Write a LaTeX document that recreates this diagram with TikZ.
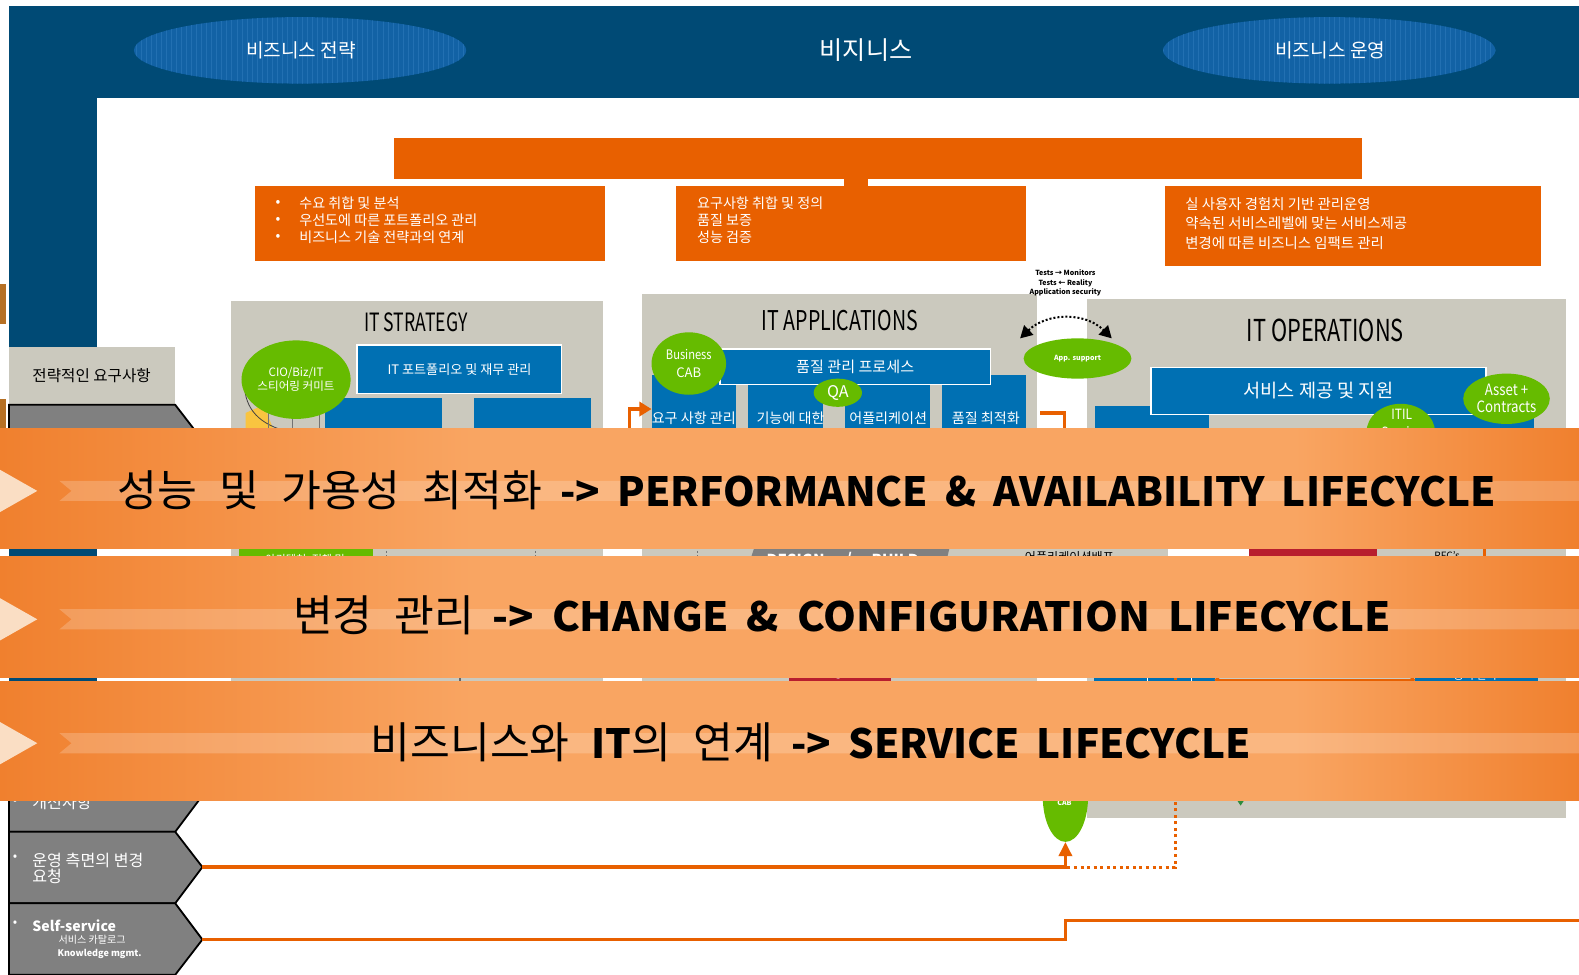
\documentclass[tikz,border=0pt]{standalone}
\usepackage{fontspec}
\setmainfont{Noto Sans CJK KR}
\usepackage{graphicx}
\usetikzlibrary{arrows.meta,shapes.geometric}
\definecolor{navy}{RGB}{0,74,117}
\definecolor{hdrell}{RGB}{18,98,165}
\definecolor{hdrgrid}{RGB}{34,112,178}
\definecolor{org}{RGB}{232,96,0}
\definecolor{panel}{RGB}{203,201,190}
\definecolor{bbox}{RGB}{0,112,179}
\definecolor{grn}{RGB}{102,187,0}
\definecolor{dgrn}{RGB}{46,140,60}
\definecolor{chev}{RGB}{128,128,128}
\definecolor{rd}{RGB}{184,30,46}
\definecolor{bandD}{RGB}{240,128,46}
\definecolor{bandL}{RGB}{249,165,98}
\definecolor{pale}{RGB}{250,222,196}
\definecolor{brn}{RGB}{182,112,36}
\definecolor{ylw}{RGB}{249,196,64}
\pgfdeclarehorizontalshading{band}{100bp}{color(0bp)=(bandD); color(25bp)=(bandD); color(40bp)=(bandL); color(66bp)=(bandL); color(75bp)=(bandD); color(100bp)=(bandD)}
\newcommand{\krbig}[1]{{\fontsize{43}{44}\selectfont\spaceskip=22pt\relax #1}}
\newcommand{\enbig}[1]{{\bfseries\fontsize{40}{44}\selectfont\spaceskip=17pt\relax #1}}
\tikzset{
  bluebox/.style={fill=bbox, draw=white, line width=1.5pt, text=white, inner sep=0pt},
  gell/.style={ellipse, fill=grn, text=white, inner sep=0pt, align=center},
  wtxt/.style={text=white, inner sep=0pt},
  olink/.style={draw=org, line width=3.3pt},
  chevshape/.style={fill=chev, draw=black, line width=1.8pt},
  ttl/.style={text=black, inner sep=0pt},
  bantxt/.style={text=black, inner sep=0pt, font={\fontsize{40}{44}\selectfont}},
}
\begin{document}
\begin{tikzpicture}[x=1pt,y=-1pt]
\useasboundingbox (0,0) rectangle (1568,968);
\fill[white] (0,0) rectangle (1568,968);
% frame
\fill[navy] (9,6) rectangle (1568,97);
\fill[navy] (9,97) rectangle (96,800);
\fill[brn] (0,282) rectangle (6,322);
\fill[brn] (0,396) rectangle (6,426);
% header ellipses
\foreach \cx in {298,1320}{
  \begin{scope}
    \clip (\cx,50) ellipse [x radius=165, y radius=33];
    \fill[hdrell] (\cx-170,10) rectangle (\cx+170,90);
    \draw[hdrgrid, line width=0.3pt, step=5] (\cx-170,10) grid (\cx+170,90);
  \end{scope}
}
\node[wtxt, font=\fontsize{19}{22}\selectfont] (hs) at (299,50) {비즈니스 전략};
\node[wtxt, font=\fontsize{25}{28}\selectfont] (hb) at (860,50) {비지니스};
\node[wtxt, font=\fontsize{19}{22}\selectfont] (ho) at (1321,50) {비즈니스 운영};
% orange boxes
\fill[org] (391,137) rectangle (1352,178);
\fill[org] (838,178) rectangle (862,186);
\fill[org] (253,185) rectangle (601,259);
\fill[org] (671,185) rectangle (1019,259);
\fill[org] (1157,185) rectangle (1530,264);
\begin{scope}[every node/.style={wtxt, font=\fontsize{14}{16}\selectfont}]
\node (lb1) at (276,202) {•};
\node (lb2) at (276,219) {•};
\node (lb3) at (276,236) {•};
\node[anchor=west] (l1) at (297,202) {수요 취합 및 분석};
\node[anchor=west] (l2) at (297,219) {우선도에 따른 포트폴리오 관리};
\node[anchor=west] (l3) at (297,236) {비즈니스 기술 전략과의 연계};
\node[anchor=west] (m1) at (692,202) {요구사항 취합 및 정의};
\node[anchor=west] (m2) at (692,219) {품질 보증};
\node[anchor=west] (m3) at (692,236) {성능 검증};
\node[anchor=west, font=\fontsize{14.3}{16}\selectfont] (r1) at (1177,203) {실 사용자 경험치 기반 관리운영};
\node[anchor=west, font=\fontsize{14.3}{16}\selectfont] (r2) at (1177,222) {약속된 서비스레벨에 맞는 서비스제공};
\node[anchor=west, font=\fontsize{14.3}{16}\selectfont] (r3) at (1177,241) {변경에 따른 비즈니스 임팩트 관리};
\end{scope}
% panels
\fill[panel] (229,299) rectangle (599,790);
\fill[panel] (638,292) rectangle (1030,790);
\fill[panel] (1079,297) rectangle (1555,812);
% strategy panel
\node[ttl, font=\fontsize{25}{27}\selectfont] (tstr) at (413,320) {\scalebox{0.7}[1]{IT STRATEGY}};
\node[bluebox, minimum width=203pt, minimum height=48pt, anchor=north west, font=\fontsize{13}{15}\selectfont] (port) at (354,342) {IT 포트폴리오 및 재무 관리};
\fill[bbox] (323,395) rectangle (439,440);
\fill[bbox] (471,395) rectangle (587,440);
\fill[ylw] (244,410) -- (262,402) -- (272,428) -- (244,428) -- cycle;
\draw[black!75, line width=0.8pt] (243,386) .. controls (245,410) and (262,424) .. (292,430);
\draw[black!55, line width=0.7pt] (266,398) -- (266,430) (290,404) -- (290,430) (317,404) -- (317,430);
\node[gell, minimum width=104pt, minimum height=78pt, font=\fontsize{11.5}{14}\selectfont] (cio) at (294,377) {CIO/Biz/IT\\스티어링 커미트};
% strategic requirement
\fill[panel] (9,345) rectangle (174,402);
\node[ttl, font=\fontsize{15.5}{17}\selectfont] (sreq) at (91,373) {전략적인 요구사항};
\draw[chevshape] (9,402) -- (174,402) -- (201,437) -- (174,473) -- (9,473) -- cycle;
% applications panel
\node[ttl, font=\fontsize{27}{29}\selectfont] (tapp) at (834,318) {\scalebox{0.72}[1]{IT APPLICATIONS}};
\node[fill=bbox, inner sep=0pt, minimum width=84pt, minimum height=68pt, anchor=north west] (reqm) at (647,372) {};
\fill[bbox] (743,382) rectangle (817,440);
\fill[bbox] (839,382) rectangle (924,440);
\fill[bbox] (935,372) rectangle (1019,440);
\node[bluebox, minimum width=269pt, minimum height=35pt, anchor=north west, font=\fontsize{15}{17}\selectfont] (qproc) at (714,346) {품질 관리 프로세스};
\begin{scope}[every node/.style={wtxt, font=\fontsize{14}{15}\selectfont}]
\node (a1) at (689,415) {요구 사항 관리};
\node (a2) at (785,415) {기능에 대한};
\node (a3) at (882,415) {어플리케이션};
\node (a4) at (979,415) {품질 최적화};
\end{scope}
\node[gell, minimum width=74pt, minimum height=62pt, font=\fontsize{13}{18}\selectfont] (bcab) at (684,361) {\scalebox{0.85}[1]{Business}\\CAB};
\node[gell, minimum width=48pt, minimum height=28pt, font=\fontsize{16}{18}\selectfont] (qa) at (832,390) {QA};
\coordinate (ea) at (625,432);
\draw[olink, -{Triangle[width=14pt,length=12pt]}] (ea) |- (reqm.west);
\coordinate (rb1) at (1033,410);
\coordinate (rb2) at (1057,560);
\draw[olink] (rb1) -| (rb2);
% tests / app support
\node[ttl, align=center, font=\bfseries\fontsize{7}{9.5}\selectfont] (tests) at (1058,281) {Tests → Monitors\\Tests ← Reality\\Application security};
\coordinate (dl) at (1013,336);
\coordinate (dr) at (1104,336);
\draw[black, line width=2pt, dash pattern=on 2pt off 2pt, {Triangle[width=13pt,length=12pt]}-{Triangle[width=13pt,length=12pt]}] (dl) .. controls (1040,310) and (1078,310) .. (dr);
\node[gell, minimum width=107pt, minimum height=40pt, font=\bfseries\fontsize{7}{8}\selectfont] (apps) at (1070,356) {App. support};
% operations panel
\node[ttl, font=\fontsize{30}{32}\selectfont] (tops) at (1316,328) {\scalebox{0.72}[1]{IT OPERATIONS}};
\fill[bbox] (1087,403) rectangle (1201,440);
\fill[bbox] (1380,411) rectangle (1523,440);
\node[bluebox, minimum width=333pt, minimum height=47pt, anchor=north west, font=\fontsize{18.5}{20}\selectfont] (svc) at (1142,364) {서비스 제공 및 지원};
\node[gell, minimum width=68pt, minimum height=56pt] (itil) at (1391,429) {};
\node[wtxt, font=\fontsize{14}{16}\selectfont] (itilt) at (1392,411) {\scalebox{0.85}[1]{ITIL}};
\node[wtxt, font=\fontsize{14}{16}\selectfont] (itils) at (1392,429) {\scalebox{0.85}[1]{Service}};
\node[gell, minimum width=86pt, minimum height=50pt, font=\fontsize{15.5}{17}\selectfont] (asset) at (1496,396) {\scalebox{0.85}[1]{Asset +}\\\scalebox{0.85}[1]{Contracts}};
% strip 1 fragments
\fill[grn] (237,535) rectangle (370,565);
\node[wtxt, font=\fontsize{11}{12}\selectfont] (arch) at (303,556) {아키텍처, 정책 및};
\draw[black!55, line width=0.8pt, dash pattern=on 2pt off 2pt] (384,535) -- (384,565) (532,535) -- (532,565) (693,535) -- (693,565);
\fill[chev] (752,535) -- (945,535) -- (938,565) -- (742,565) -- cycle;
\fill[grn] (818,563) ellipse [x radius=16, y radius=9];
\node[wtxt, font=\bfseries\fontsize{15}{16}\selectfont] (dsn) at (790,556) {DESIGN};
\node[wtxt, font=\bfseries\fontsize{15}{16}\selectfont] (slsh) at (843,556) {/};
\node[wtxt, font=\bfseries\fontsize{15}{16}\selectfont] (bld) at (889,556) {BUILD};
\fill[panel] (1028,535) rectangle (1160,565);
\node[ttl, font=\fontsize{12}{13}\selectfont] (deploy) at (1062,553) {어플리케이션배포};
\fill[white] (1160,535) rectangle (1240,565);
\fill[rd] (1240,535) rectangle (1367,565);
\node[ttl, font=\fontsize{10}{11}\selectfont] (rfc) at (1437,552) {RFC's};
\draw[org, line width=2.5pt] (1474,535) -- (1474,565);
% strip 2 fragments
\draw[black!60, line width=2pt] (457,668) -- (457,684);
\fill[rd] (783,660) rectangle (885,685);
\node[wtxt, font=\fontsize{10}{11}\selectfont] (mgmt) at (834,670) {management};
\node[fill=bbox, inner sep=0pt, minimum width=120pt, minimum height=20pt, anchor=west] (sb1) at (1086,675) {};
\draw[white, line width=1pt] (1139,665) -- (1139,685) (1183,665) -- (1183,685);
\node[fill=bbox, inner sep=0pt, minimum width=122pt, minimum height=20pt, anchor=west] (sb2) at (1405,675) {};
\node[wtxt, font=\fontsize{11}{12}\selectfont] (gmgmt) at (1465,671) {공식 관리};
\draw[org, line width=2pt, {Circle[length=5pt]}-{Circle[length=5pt]}] (sb1.east) -- (sb2.west);
% bottom chevrons
\draw[chevshape] (9,755) -- (174,755) -- (201,790) -- (174,826) -- (9,826) -- cycle;
\draw[chevshape] (9,826) -- (174,826) -- (201,861) -- (174,897) -- (9,897) -- cycle;
\draw[chevshape] (9,897) -- (174,897) -- (201,933) -- (174,968) -- (9,968) -- cycle;
\node[wtxt, font=\fontsize{13}{14}\selectfont] (bl3) at (15,796) {•};
\node[wtxt, font=\fontsize{16}{17}\selectfont, anchor=west] (imp) at (32,797) {개선사항};
\node[wtxt, font=\fontsize{13}{14}\selectfont] (bl4) at (15,852) {•};
\node[wtxt, font=\fontsize{16}{17}\selectfont, anchor=west] (opchg) at (32,854) {운영 측면의 변경};
\node[wtxt, font=\fontsize{16}{17}\selectfont, anchor=west] (opreq) at (32,870) {요청};
\node[wtxt, font=\fontsize{13}{14}\selectfont] (bl5) at (15,917) {•};
\node[wtxt, font=\bfseries\fontsize{14}{15}\selectfont, anchor=west] (selfs) at (32,919) {Self-service};
\node[wtxt, font=\fontsize{10}{11}\selectfont, anchor=west] (catal) at (58,933) {서비스 카탈로그};
\node[wtxt, font=\bfseries\fontsize{9}{10}\selectfont, anchor=west] (know) at (57,947) {Knowledge mgmt.};
% CAB and links
\node[gell, minimum width=45pt, minimum height=90pt] (cab) at (1058,791) {};
\node[wtxt, font=\bfseries\fontsize{7}{8}\selectfont] (cabt) at (1057,797) {CAB};
\fill[dgrn] (1228,794) -- (1236,794) -- (1232,800) -- cycle;
\coordinate (t4) at (201,861);
\coordinate (t5) at (201,933);
\coordinate (d1) at (1060,861);
\coordinate (d2) at (1167,553);
\coordinate (s1) at (1058,914);
\coordinate (s2) at (1568,914);
\draw[org, line width=3pt, dash pattern=on 3pt off 3.5pt] (d1) -| (d2);
\draw[olink, -{Triangle[width=13pt,length=14pt]}] (t4) -| (cab.south);
\draw[olink] (t5) -| (s1) -- (s2);
% banners
\foreach \t/\b in {426/545,553/673,677/795}{
  \pgfmathsetmacro{\cc}{(\t+\b)/2+2}
  \shade[shading=band] (0,\t) rectangle (1568,\b);
  \fill[white,opacity=0.2] (59,\cc-10) -- (1568,\cc-10) -- (1568,\cc+10) -- (59,\cc+10) -- (71,\cc) -- cycle;
  \fill[pale] (0,\cc-21) -- (37,\cc) -- (0,\cc+21) -- cycle;
}
\node[bantxt] (bt1) at (801,487) {\krbig{성능 및 가용성 최적화}\hspace{18pt}\enbig{-> PERFORMANCE \& AVAILABILITY LIFECYCLE}};
\node[bantxt] (bt2) at (836,611) {\krbig{변경 관리}\hspace{18pt}\scalebox{1.04}[1]{\enbig{-> CHANGE \& CONFIGURATION LIFECYCLE}}};
\node[bantxt] (bt3) at (805,737) {\krbig{비즈니스와}\hspace{22pt}\enbig{IT}\krbig{의 연계}\hspace{18pt}\enbig{-> SERVICE LIFECYCLE}};
\end{tikzpicture}
\end{document}
